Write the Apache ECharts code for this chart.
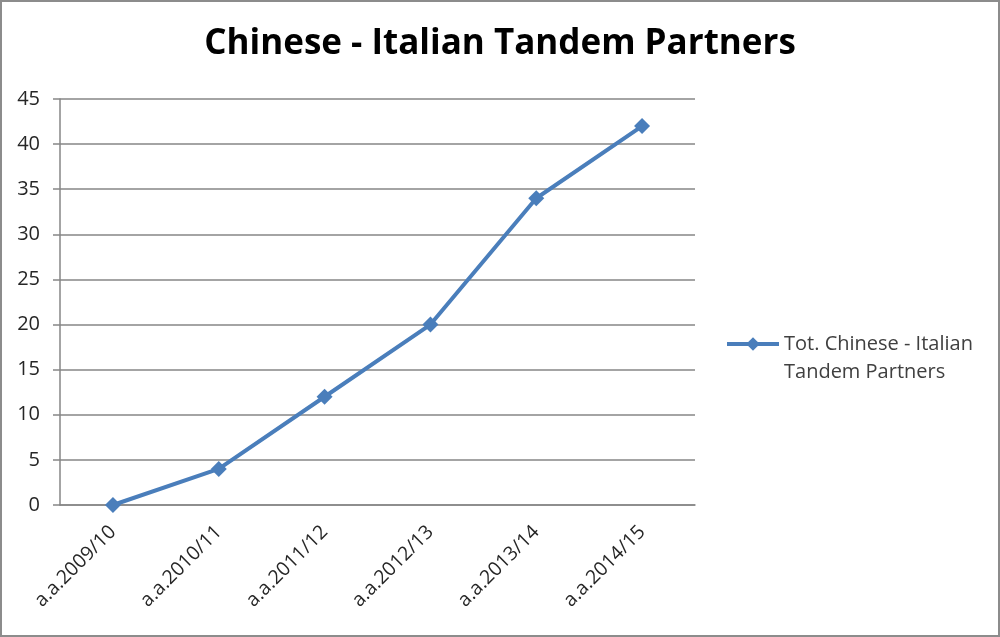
<!DOCTYPE html>
<html>
<head>
<meta charset="utf-8">
<script src="https://cdn.jsdelivr.net/npm/echarts@6/dist/echarts.min.js"></script>
<style>
  html, body { margin: 0; padding: 0; background: #fff; }
  #main { width: 996px; height: 633px; border: 2px solid #8c8c8c; }
</style>
</head>
<body>
<div id="main"></div>
<script>
// dati
var categories = ['a.a.2009/10', 'a.a.2010/11', 'a.a.2011/12', 'a.a.2012/13', 'a.a.2013/14', 'a.a.2014/15'];
var partners = [0, 4, 12, 20, 34, 42];
var seriesName = 'Tot. Chinese - Italian Tandem Partners';

var myChart = echarts.init(document.getElementById('main'));

var option = {
    animation: false,
    color: ['#4a7ebb'],
    title: {
        text: 'Chinese - Italian Tandem Partners',
        left: 'center',
        top: 20,
        textStyle: { fontFamily: 'Open Sans', fontSize: 35, fontWeight: 'bold', color: '#000' }
    },
    legend: {
        left: 718,
        top: 295,
        itemWidth: 52,
        itemHeight: 17,
        itemGap: 2,
        // leading blank line so the icon sits beside the first text line
        formatter: function () { return ' \nTot. Chinese - Italian\nTandem Partners'; },
        textStyle: { fontFamily: 'Open Sans', fontSize: 20, color: '#404040', lineHeight: 28 },
        lineStyle: { width: 4 },
        data: [seriesName]
    },
    grid: { left: 58, right: 303, top: 97, bottom: 130 },
    xAxis: {
        type: 'category',
        data: categories,
        axisLine: { lineStyle: { color: '#868686', width: 1.5 } },
        axisTick: { length: 7, lineStyle: { color: '#868686', width: 1.5 } },
        axisLabel: { rotate: 45, margin: 24, fontFamily: 'Open Sans', fontSize: 19.5, color: '#262626' }
    },
    yAxis: {
        type: 'value',
        min: 0,
        max: 45,
        interval: 5,
        axisLine: { show: true, lineStyle: { color: '#868686', width: 1.5 } },
        axisTick: { show: true, length: 7, lineStyle: { color: '#868686', width: 1.5 } },
        axisLabel: { margin: 20, fontFamily: 'Open Sans', fontSize: 20, color: '#262626' },
        splitLine: { lineStyle: { color: '#868686', width: 1.5 } }
    },
    series: [{
        name: seriesName,
        type: 'line',
        data: partners,
        symbol: 'diamond',
        symbolSize: 16,
        lineStyle: { width: 4 },
        itemStyle: { color: '#4a7ebb' }
    }]
};

myChart.setOption(option);
</script>
</body>
</html>
